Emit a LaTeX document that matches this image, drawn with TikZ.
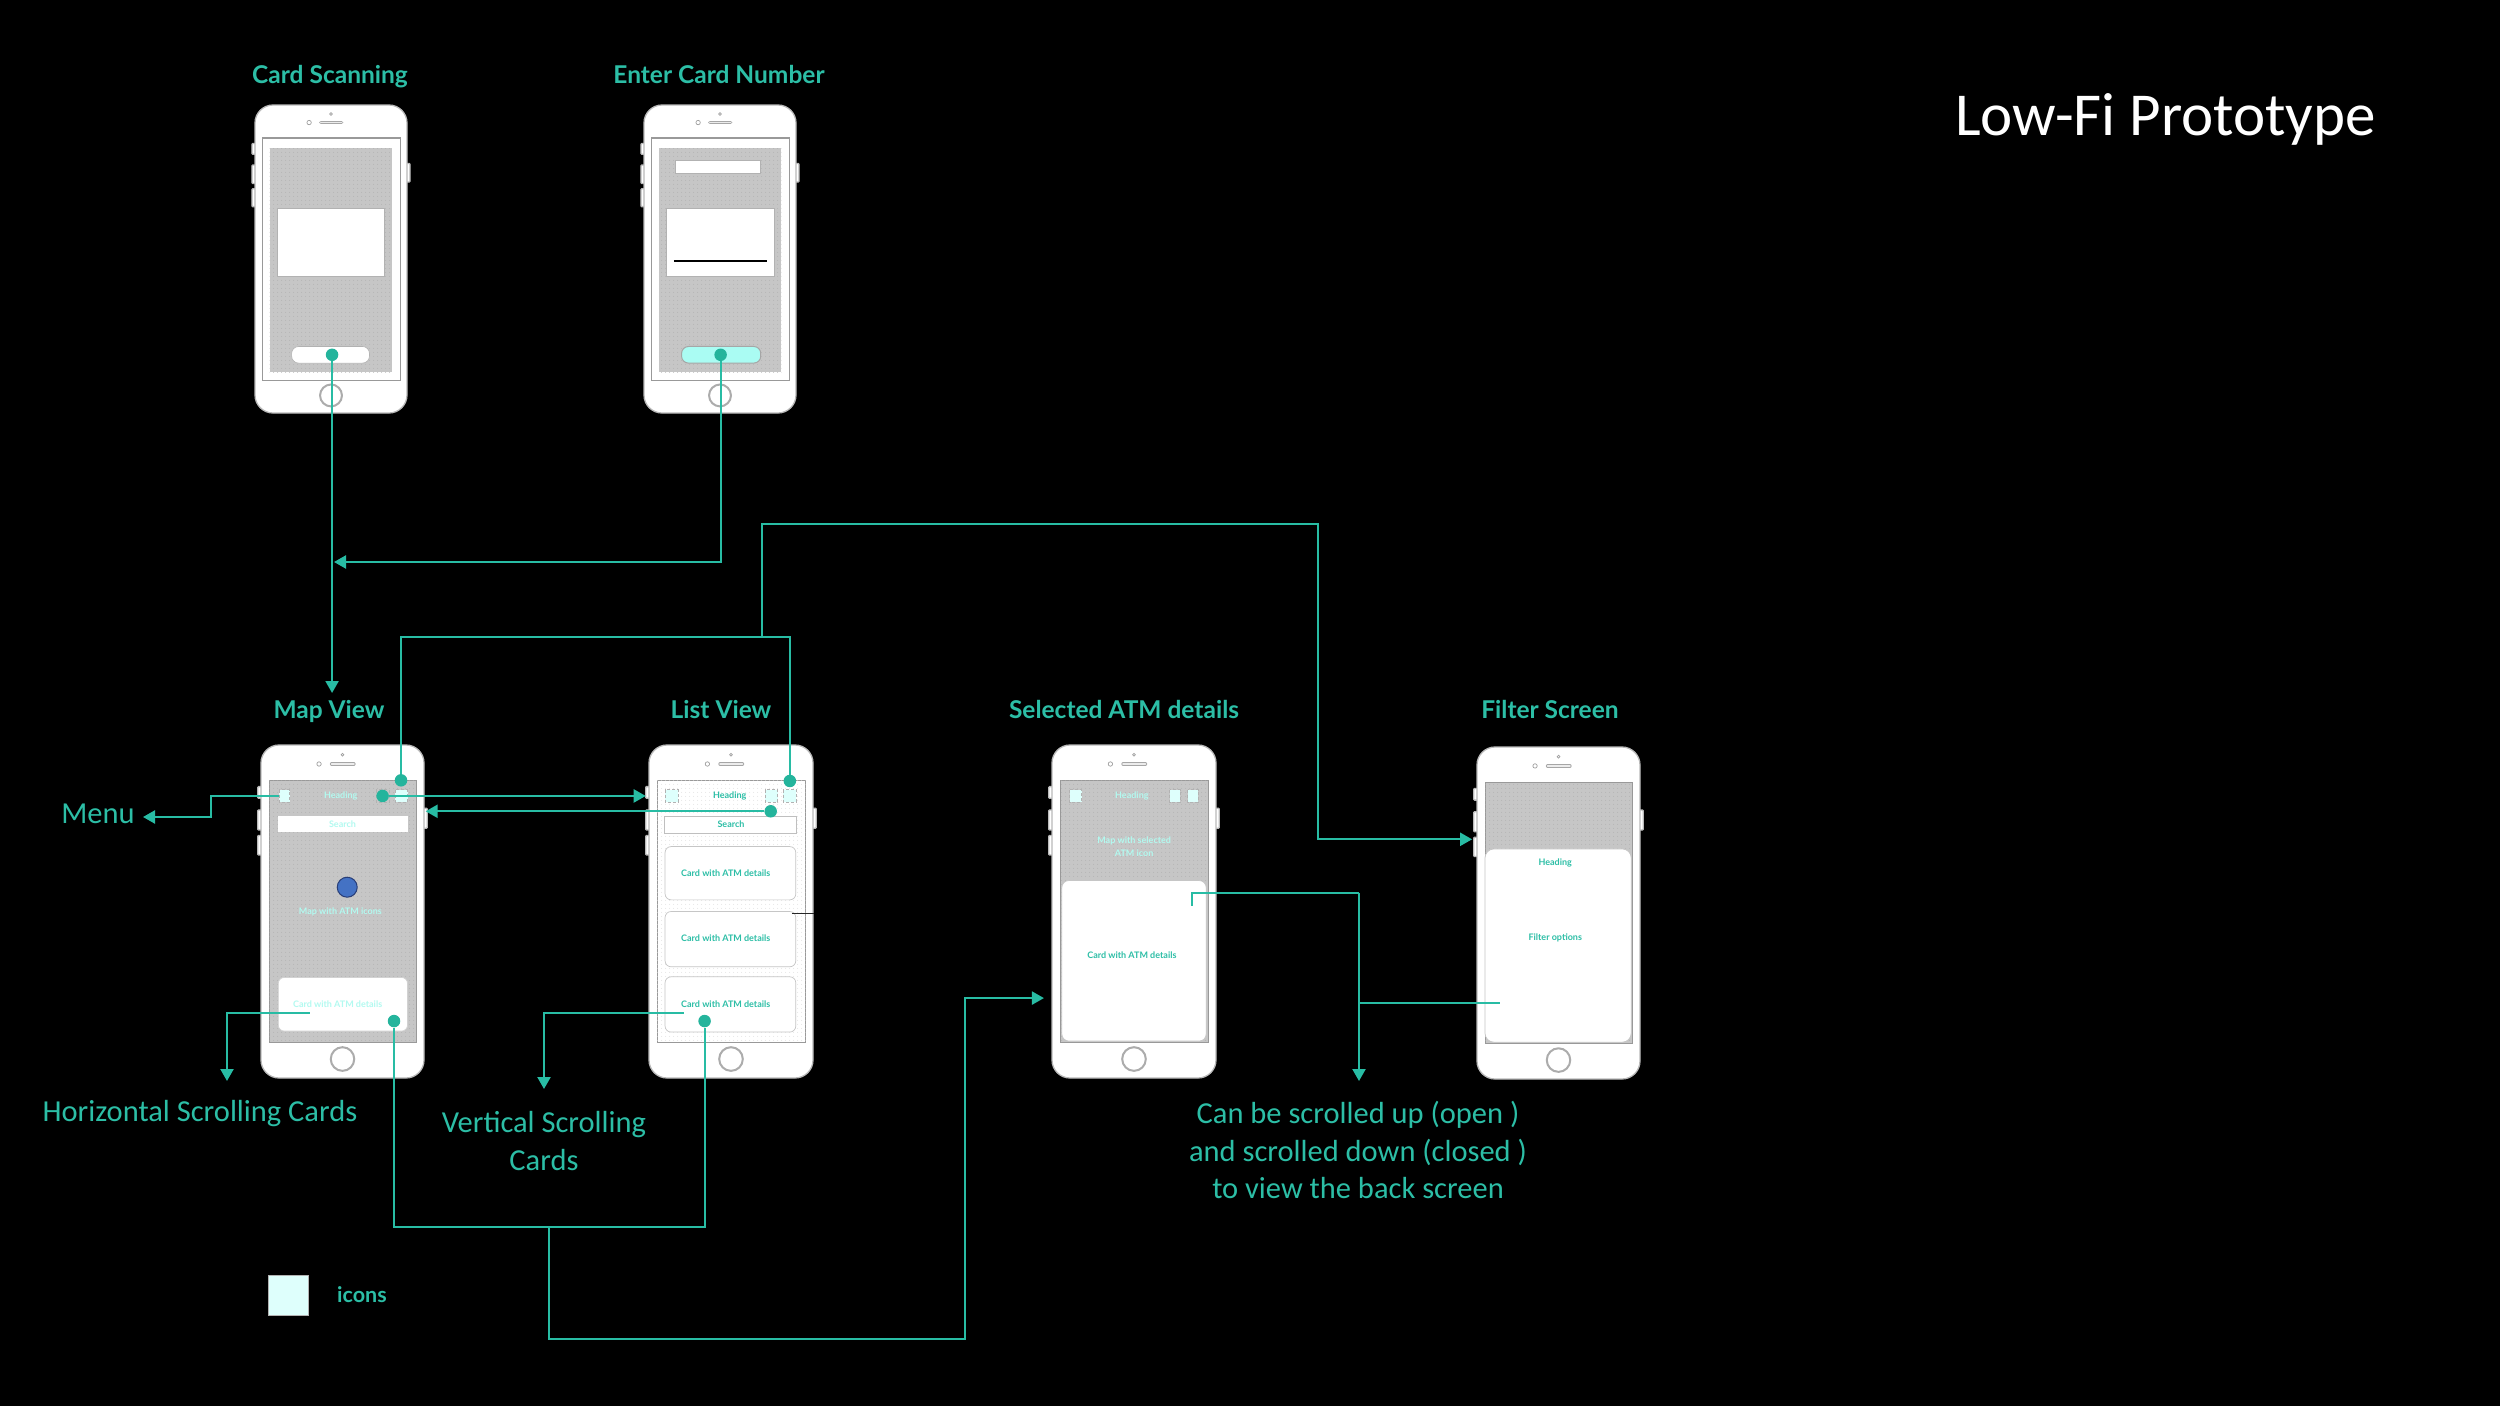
\documentclass[tikz,border=0pt]{standalone}
\usepackage{fontspec}
\setmainfont{Carlito}
\newfontfamily\lblfont{Lato}
\usetikzlibrary{arrows.meta,patterns.meta,calc}
\definecolor{teal1}{RGB}{40,188,164}
\definecolor{tealdot}{RGB}{36,180,156}
\definecolor{tealtxt}{RGB}{44,190,166}
\definecolor{lcyan}{RGB}{178,250,240}
\definecolor{iconfill}{RGB}{222,255,252}
\definecolor{scrgray}{RGB}{198,198,198}
\definecolor{dotgray}{RGB}{172,172,172}
\definecolor{btncyan}{RGB}{170,252,243}
\definecolor{mapblue}{RGB}{68,114,196}
\definecolor{mapbluedk}{RGB}{40,62,120}
\tikzdeclarepattern{name=mydots, type=uncolored, bounding box={(0pt,0pt) and (4pt,4pt)}, tile size={(4pt,4pt)}, code={\fill (2pt,2pt) circle (0.55pt);}}
\tikzset{
 conn/.style={draw=teal1, line width=2.2pt},
 arr/.style={-{Triangle[length=12pt,width=13pt]}},
 tdot/.style={circle, fill=tealdot, inner sep=0pt, minimum size=12.5pt},
 plabel/.style={font=\lblfont\bfseries\fontsize{24.5}{28}\selectfont, text=tealtxt, anchor=base, inner sep=0pt},
 note/.style={font=\fontsize{30.5}{37.5}\selectfont, text=tealtxt, align=center, inner sep=0pt},
 ptxt/.style={font=\lblfont\bfseries\fontsize{9}{11}\selectfont, inner sep=0pt},
 shellline/.style={draw=gray!55, line width=1.3pt},
 frameline/.style={draw=gray!80, line width=1.1pt},
 thinline/.style={draw=gray!60, line width=0.6pt},
 iconbox/.style={draw=gray!60, densely dashed, line width=0.6pt, fill=iconfill},
 cardbox/.style={draw=gray!45, line width=0.7pt, fill=white, rounded corners=6pt},
}
\newcommand\phoneshell{%
  \foreach \a/\b in {0.125/0.16,0.195/0.255,0.272/0.33}{\draw[shellline,fill=white,rounded corners=0.8pt] (-0.02,\a) rectangle (0.01,\b);}
  \draw[shellline,fill=white,rounded corners=0.8pt] (0.99,0.19) rectangle (1.02,0.25);
  \draw[shellline,fill=white,rounded corners=18pt] (0,0) rectangle (1,1);
  \draw[gray!75,line width=0.7pt,fill=white] (0.356,0.057) circle[radius=2.2pt];
  \draw[gray!75,line width=0.7pt,fill=white] (0.5,0.029) circle[radius=1.4pt];
  \draw[gray!70,line width=3.4pt,line cap=round] (0.433,0.057) -- (0.57,0.057);
  \draw[gray!15,line width=1.6pt,line cap=round] (0.433,0.057) -- (0.57,0.057);
  \draw[gray!65,line width=2pt,fill=white] (0.5,0.943) circle[x radius=0.072,y radius=0.0355];
}
\newcommand\phoneframe[1]{%
  \draw[frameline,fill=#1] (0.05,0.107) rectangle (0.955,0.894);}
\newcommand\dotarea[3]{%
  \fill[#1] #3; \path[pattern=mydots,pattern color=#2] #3;}
\begin{document}
\begin{tikzpicture}[x=1pt,y=-1pt]
\fill[black] (0,0) rectangle (2500,1406);
\useasboundingbox (0,0) rectangle (2500,1406);

% ---------- title ----------
\node[anchor=base west, inner sep=0pt, text=white, font=\fontsize{61}{70}\selectfont] (title) at (1955,135) {Low-Fi Prototype};

% ---------- phone labels ----------
\node[plabel] (lcs) at (330,83) {Card Scanning};
\node[plabel] (lec) at (719,83) {Enter Card Number};
\node[plabel] (lmap) at (329,718) {Map View};
\node[plabel] (llist) at (721,718) {List View};
\node[plabel] (lsel) at (1124,718) {Selected ATM details};
\node[plabel] (lfil) at (1550,718) {Filter Screen};

% ---------- Card Scanning ----------
\begin{scope}[shift={(255,105)},x=152pt,y=-308pt]
 \phoneshell
 \phoneframe{white}
 \dotarea{scrgray}{dotgray}{(0.096,0.141) rectangle (0.904,0.868)}
 \draw[thinline,fill=white] (0.145,0.335) rectangle (0.849,0.557);
 \draw[thinline,fill=white,rounded corners=7pt] (0.241,0.784) rectangle (0.753,0.838);
 \node[tdot] (csdot) at (0.507,0.811) {};
\end{scope}

% ---------- Enter Card Number ----------
\begin{scope}[shift={(644,105)},x=152pt,y=-308pt]
 \phoneshell
 \phoneframe{white}
 \dotarea{scrgray}{dotgray}{(0.096,0.141) rectangle (0.904,0.868)}
 \draw[thinline,fill=white] (0.205,0.178) rectangle (0.767,0.222);
 \draw[thinline,fill=white] (0.145,0.335) rectangle (0.855,0.557);
 \draw[black,line width=1.3pt] (0.197,0.506) -- (0.808,0.506);
 \draw[gray!70,line width=1pt,fill=btncyan,rounded corners=7pt] (0.247,0.784) rectangle (0.768,0.838);
 \node[tdot] (ecdot) at (0.504,0.811) {};
\end{scope}

% ---------- Map View ----------
\begin{scope}[shift={(261,745)},x=163pt,y=-333pt]
 \phoneshell
 \phoneframe{scrgray}
 \path[pattern=mydots,pattern color=dotgray] (0.05,0.107) rectangle (0.955,0.894);
 \draw[iconbox] (0.111,0.134) rectangle (0.176,0.171);
 \draw[iconbox,fill=scrgray] (0.706,0.134) rectangle (0.788,0.171);
 \draw[iconbox] (0.824,0.134) rectangle (0.899,0.171);
 \node[ptxt,text=lcyan] (mhead) at (0.489,0.153) {Heading};
 \fill[white] (0.106,0.214) rectangle (0.899,0.261);
 \node[ptxt,text=lcyan] (msearch) at (0.5,0.238) {Search};
 \draw[fill=mapblue,draw=mapbluedk,line width=1pt] (0.529,0.427) circle[radius=10pt];
 \node[ptxt,text=lcyan] (mmap) at (0.487,0.5) {Map with ATM icons};
 \draw[cardbox,draw=gray!35] (0.106,0.698) rectangle (0.899,0.859);
 \node[ptxt,text=lcyan] (mcard) at (0.47,0.777) {Card with ATM details};
 \node[tdot] (mapcard) at (0.816,0.829) {};
 \node[tdot] (maptop) at (0.859,0.106) {};
 \node[tdot] (mapicon) at (0.746,0.153) {};
 \coordinate (menuicon) at (0.111,0.153);
 \coordinate (mapcardL) at (0.30,0.804);
 \coordinate (mapin) at (1.01,0.199);
\end{scope}

% ---------- List View ----------
\begin{scope}[shift={(649,745)},x=164pt,y=-333pt]
 \phoneshell
 \phoneframe{white}
 \path[pattern=mydots,pattern color=gray!30] (0.05,0.107) rectangle (0.955,0.894);
 \draw[iconbox] (0.098,0.134) rectangle (0.176,0.171);
 \draw[iconbox] (0.707,0.134) rectangle (0.785,0.171);
 \draw[iconbox] (0.820,0.134) rectangle (0.899,0.171);
 \node[ptxt,text=tealtxt] (lhead) at (0.492,0.153) {Heading};
 \draw[draw=gray!50,line width=0.6pt,fill=white] (0.094,0.214) rectangle (0.899,0.264);
 \node[ptxt,text=tealtxt] (lsearch) at (0.5,0.239) {Search};
 \draw[cardbox] (0.098,0.305) rectangle (0.895,0.465);
 \draw[cardbox] (0.098,0.500) rectangle (0.895,0.666);
 \draw[cardbox] (0.098,0.696) rectangle (0.895,0.862);
 \node[ptxt,text=tealtxt] (lc1) at (0.468,0.385) {Card with ATM details};
 \node[ptxt,text=tealtxt] (lc2) at (0.468,0.581) {Card with ATM details};
 \node[ptxt,text=tealtxt] (lc3) at (0.468,0.777) {Card with ATM details};
 \draw[black!85,line width=1.2pt] (0.871,0.506) -- (1.005,0.506);
 \node[tdot] (listtop) at (0.859,0.108) {};
 \node[tdot] (listdot2) at (0.742,0.199) {};
 \node[tdot] (listcard) at (0.339,0.829) {};
 \coordinate (listin) at (-0.02,0.153);
 \coordinate (listcardL) at (0.213,0.804);
\end{scope}

% ---------- Selected ATM details ----------
\begin{scope}[shift={(1052,745)},x=164pt,y=-333pt]
 \phoneshell
 \phoneframe{scrgray}
 \path[pattern=mydots,pattern color=dotgray] (0.05,0.107) rectangle (0.955,0.894);
 \draw[iconbox] (0.108,0.134) rectangle (0.181,0.171);
 \draw[iconbox] (0.718,0.134) rectangle (0.783,0.171);
 \draw[iconbox] (0.827,0.134) rectangle (0.892,0.171);
 \node[ptxt,text=lcyan] (shead) at (0.487,0.153) {Heading};
 \node[ptxt,text=lcyan,align=center,font=\lblfont\bfseries\fontsize{9}{12.5}\selectfont] (smap) at (0.501,0.306) {Map with selected\\ATM icon};
 \draw[cardbox,rounded corners=7pt] (0.06,0.407) rectangle (0.94,0.889);
 \node[ptxt,text=tealtxt] (scard) at (0.487,0.631) {Card with ATM details};
 \coordinate (selstub) at (0.855,0.482);
 \coordinate (selin) at (-0.049,0.76);
\end{scope}

% ---------- Filter Screen ----------
\begin{scope}[shift={(1477,747)},x=163pt,y=-332pt]
 \phoneshell
 \phoneframe{scrgray}
 \path[pattern=mydots,pattern color=dotgray] (0.05,0.107) rectangle (0.955,0.894);
 \draw[cardbox,rounded corners=9pt] (0.049,0.307) rectangle (0.946,0.889);
 \node[ptxt,text=tealtxt] (fhead) at (0.48,0.349) {Heading};
 \node[ptxt,text=tealtxt] (fopt) at (0.48,0.576) {Filter options};
 \coordinate (filin) at (-0.03,0.278);
 \coordinate (filpt) at (0.139,0.772);
\end{scope}

% ---------- annotation texts ----------
\node[note,anchor=base] (menu) at (98,823) {Menu};
\node[note,anchor=base] (hsc) at (200,1121) {Horizontal Scrolling Cards};
\node[note] (vsc) at (544,1141) {Vertical Scrolling\\Cards};
\node[note] (scr) at (1358,1150) {Can be scrolled up (open )\\and scrolled down (closed )\\to view the back screen};
\node[draw=gray!60,line width=0.6pt,fill=iconfill,minimum width=40pt,minimum height=40pt,inner sep=0pt] (legicon) at (288,1295.5) {};
\node[anchor=west,inner sep=0pt,text=tealtxt,font=\lblfont\bfseries\fontsize{21.5}{25}\selectfont] (legtxt) at (337,1295) {icons};

% ---------- junction coordinates ----------
\coordinate (maparr) at (332,693);
\coordinate (j1) at (334,562);
\coordinate (j2) at (762,637);
\coordinate (j3) at (1318,524);
\coordinate (j4) at (211,817);
\coordinate (menuarr) at (143,817);
\coordinate (hsarr) at (227,1081);
\coordinate (vsarr) at (544,1089);
\coordinate (j5) at (549,1227);
\coordinate (j6) at (965,1339);
\coordinate (j7) at (1359,893);
\coordinate (scrarr) at (1359,1081);

% ---------- connectors ----------
\draw[conn,arr] (csdot) -- (csdot |- maparr);
\draw[conn,arr] (ecdot) |- (j1);
\draw[conn] (maptop) |- (j2) -| (listtop);
\draw[conn,arr] (j2) |- (j3) |- (filin);
\draw[conn,arr] (mapicon) -- (listin |- mapicon);
\draw[conn,arr] (listdot2) -- (mapin |- listdot2);
\draw[conn,arr] (menuicon) -| (j4) -- (menuarr);
\draw[conn,arr] (mapcardL) -| (hsarr);
\draw[conn,arr] (listcardL) -| (vsarr);
\draw[conn] (mapcard) |- (j5) -| (listcard);
\draw[conn,arr] (j5) |- (j6) |- (selin);
\draw[conn] (selstub) |- (j7);
\draw[conn,arr] (j7) -- (scrarr);
\draw[conn] (filpt) -- (filpt -| j7);
\end{tikzpicture}
\end{document}
